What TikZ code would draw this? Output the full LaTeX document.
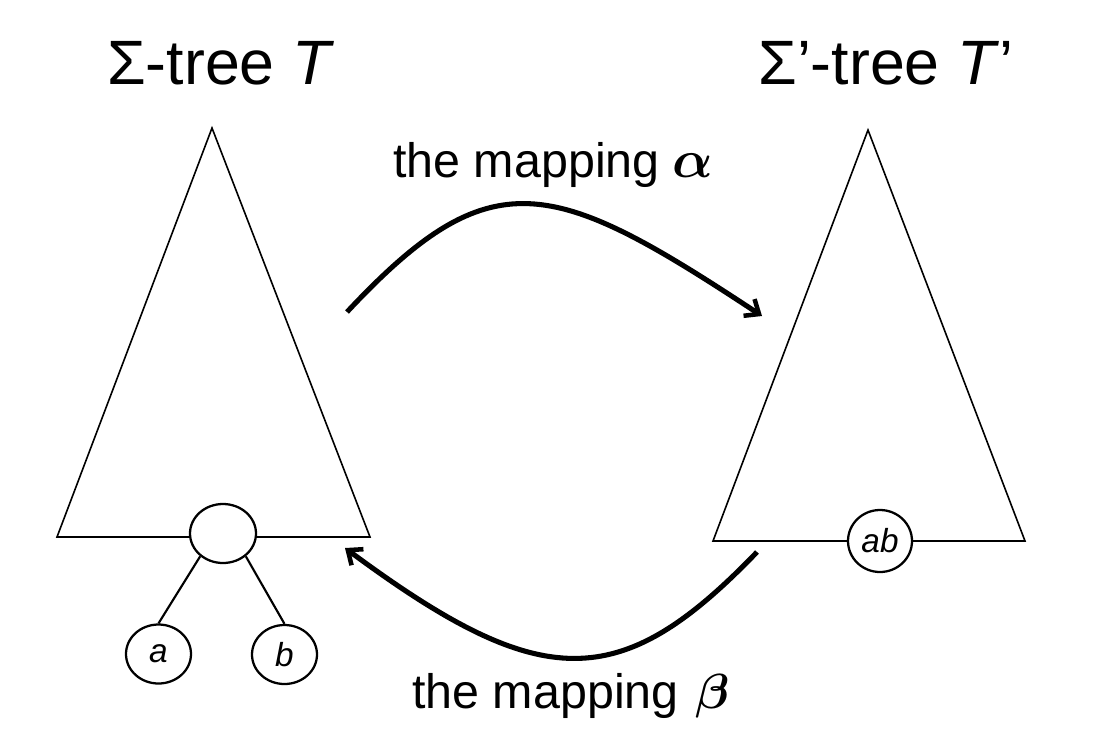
\RequirePackage{fix-cm}
\documentclass[tikz,border=0pt]{standalone}
\usepackage{amsmath}
\usepackage{fontspec}
\setmainfont{Liberation Sans}
\usetikzlibrary{arrows.meta,shapes.geometric}
\tikzset{
  tri/.style={line width=1.2pt, line join=miter},
  circ/.style={ellipse, draw, line width=1.7pt, fill=white, inner sep=0pt},
  edgeline/.style={line width=1.6pt},
  maparrow/.style={line width=3.8pt, -{Straight Barb[length=9pt,width=15pt,line width=3.4pt]}},
  title/.style={anchor=base west, inner sep=0pt, font=\fontsize{47pt}{50pt}\selectfont},
  maplabel/.style={anchor=base west, inner sep=0pt, font=\fontsize{36.3pt}{40pt}\selectfont},
  leaf/.style={font=\fontsize{25pt}{27pt}\selectfont\itshape}
}
\newcommand{\grk}[1]{{\fontsize{40pt}{42pt}\selectfont$\boldsymbol{#1}$}}
\begin{document}
\begin{tikzpicture}[x=0.75pt,y=-0.75pt]
\useasboundingbox (0,0) rectangle (1113,743);
% titles
\node[title] (t1) at (107,84) {Σ-tree \textit{T}};
\node[title] (t2) at (758,84) {Σ’-tree \textit{T}’};
% triangles
\draw[tri] (212,128) -- (57,537) -- (370,537) -- cycle;
\draw[tri] (868,130) -- (713,541) -- (1025,541) -- cycle;
% left tree nodes
\node[circ, minimum width=49.5pt, minimum height=44.25pt] (top) at (223,533.5) {};
\node[circ, leaf, minimum width=48.75pt, minimum height=44.25pt] (a) at (158.5,654) {a};
\node[circ, leaf, minimum width=48.75pt, minimum height=44.25pt] (b) at (284.5,654.5) {b};
\draw[edgeline] (top.225) -- (a.north);
\draw[edgeline] (top.-45) -- (b.north);
% right tree node
\node[circ, leaf, minimum width=48pt, minimum height=46.5pt] (ab) at (880,541) {ab};
% mapping labels
\node[maplabel] (la) at (393,177) {the mapping\hspace{10pt}\grk{\alpha}};
\node[maplabel] (lb) at (412,708) {the mapping\hspace{13pt}{\fontsize{37pt}{40pt}\selectfont$\boldsymbol{\beta}$}};
% arrows
\coordinate (as) at (347,312);
\coordinate (ae) at (762,316);
\draw[maparrow] (as) .. controls (491.5,157.4) and (552.2,177.5) .. (ae);
\coordinate (bs) at (757,552);
\coordinate (be) at (345,548);
\draw[maparrow] (bs) .. controls (619.6,694.9) and (541.1,693.1) .. (be);
\end{tikzpicture}
\end{document}
